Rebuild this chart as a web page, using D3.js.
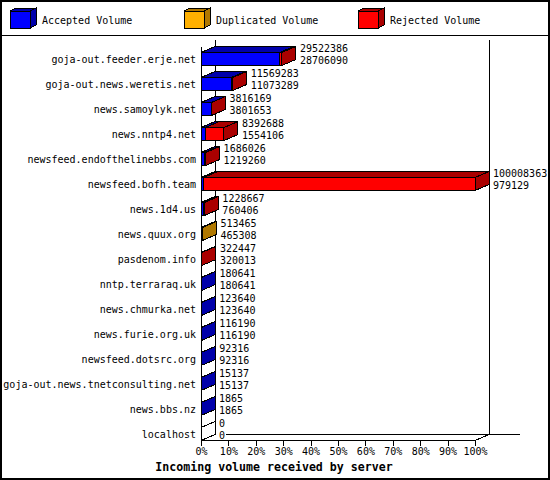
<!DOCTYPE html>
<html>
<head>
<meta charset="utf-8">
<script src="https://cdn.jsdelivr.net/npm/d3@7"></script>
<style>
body { margin: 0; background: #fff; }
text { font-family: "DejaVu Sans Mono", monospace; font-size: 10px; fill: #000; }
</style>
</head>
<body>
<script>
const hosts = [
  "goja-out.feeder.erje.net", "goja-out.news.weretis.net", "news.samoylyk.net",
  "news.nntp4.net", "newsfeed.endofthelinebbs.com", "newsfeed.bofh.team",
  "news.1d4.us", "news.quux.org", "pasdenom.info", "nntp.terraraq.uk",
  "news.chmurka.net", "news.furie.org.uk", "newsfeed.dotsrc.org",
  "goja-out.news.tnetconsulting.net", "news.bbs.nz", "localhost"
]
const accepted = [28706090, 11073289, 3801653, 1554106, 1219260, 979129, 760406, 465308,
  320013, 180641, 123640, 116190, 92316, 15137, 1865, 0]
const duplicated = [0, 0, 0, 0, 0, 0, 0, 48157, 0, 0, 0, 0, 0, 0, 0, 0]
const rejected = [816296, 495994, 14516, 6838582, 466766, 99029234, 468261, 0,
  2434, 0, 0, 0, 0, 0, 0, 0]
const legendNames = ["Accepted Volume", "Duplicated Volume", "Rejected Volume"]
const tickPct = [0, 10, 20, 30, 40, 50, 60, 70, 80, 90, 100]
const title = "Incoming volume received by server"

const frontCol = ["#0000ff", "#ffb000", "#ff0000"]
const darkCol = ["#0000aa", "#b07800", "#aa0000"]
const series = [accepted, duplicated, rejected]

const W = 550, H = 480
const dx = 14, dy = 6, barH = 13

const svg = d3.select("body").append("svg")
  .attr("width", W).attr("height", H)
  .attr("shape-rendering", "crispEdges")

// outer frame + legend separator
svg.append("rect").attr("x", 1).attr("y", 1).attr("width", W - 2).attr("height", H - 2)
  .attr("fill", "#fff").attr("stroke", "#000").attr("stroke-width", 2)
svg.append("line").attr("x1", 0).attr("x2", W).attr("y1", 35.5).attr("y2", 35.5)
  .attr("stroke", "#000")

// legend
const leg = svg.append("g").selectAll("g")
  .data(legendNames)
  .enter().append("g")
  .attr("transform", (d, i) => "translate(" + (10 + i * 174) + ",11)")

leg.append("polygon")
  .attr("points", "20,0 26,-3 26,14 20,17")
  .attr("fill", (d, i) => darkCol[i]).attr("stroke", "#000")
leg.append("polygon")
  .attr("points", "0,0 6,-3 26,-3 20,0")
  .attr("fill", (d, i) => darkCol[i]).attr("stroke", "#000")
leg.append("rect")
  .attr("width", 20).attr("height", 17)
  .attr("fill", (d, i) => frontCol[i]).attr("stroke", "#000")
leg.append("text")
  .attr("x", 32).attr("y", 9).attr("dy", "0.35em")
  .text(d => d)

const totals = hosts.map((h, i) => accepted[i] + duplicated[i] + rejected[i])

const y = d3.scaleBand().domain(hosts).range([46.5, 446.5])
const yc = h => y(h) + y.bandwidth() / 2

const x = d3.scaleLinear().domain([0, d3.max(totals)]).range([201, 475])
const xp = d3.scaleLinear().domain([0, 100]).range([201, 475])

const floorY = yc(hosts[hosts.length - 1]) + barH / 2

// walls
const frame = svg.append("g").attr("stroke", "#000").attr("fill", "none")
frame.append("line").attr("x1", xp(0) + dx).attr("x2", xp(0) + dx).attr("y1", 40).attr("y2", floorY - dy)
frame.append("line").attr("x1", xp(100) + dx).attr("x2", xp(100) + dx).attr("y1", 40).attr("y2", floorY - dy)
frame.append("line").attr("x1", xp(0) + dx + 11).attr("x2", 520).attr("y1", floorY - dy).attr("y2", floorY - dy)
frame.append("line").attr("x1", xp(0)).attr("x2", xp(0)).attr("y1", y.range()[0]).attr("y2", floorY)
frame.append("path")
  .attr("d", "M" + xp(0) + "," + floorY + "H" + xp(100) + "l" + dx + "," + (-dy))

// axis
const xaxis = svg.append("g")
  .attr("transform", "translate(0," + floorY + ")")
  .call(d3.axisBottom(xp).tickValues(tickPct).tickSize(5).tickPadding(2).tickFormat(d => d + "%"))
xaxis.select(".domain").remove()
xaxis.selectAll("text").style("font-family", "DejaVu Sans Mono").style("font-size", "10px")

// bars
const bars = svg.append("g").selectAll("g")
  .data(hosts)
  .enter().append("g")

bars.each(function (h, i) {
  const g = d3.select(this)
  const top = yc(h) - barH / 2
  const bot = yc(h) + barH / 2
  let cum = 0
  let last = -1
  series.forEach((vals, s) => {
    const v = vals[i]
    if (v <= 0) return
    const x0 = x(cum), x1 = x(cum + v)
    cum += v
    last = s
    g.append("polygon")
      .attr("points", [[x0, top], [x0 + dx, top - dy], [x1 + dx, top - dy], [x1, top]].join(" "))
      .attr("fill", darkCol[s]).attr("stroke", "#000")
    g.append("rect")
      .attr("x", x0).attr("y", top).attr("width", x1 - x0).attr("height", barH)
      .attr("fill", frontCol[s]).attr("stroke", "#000")
  })
  const xe = x(cum)
  g.append("polygon")
    .attr("points", [[xe, top], [xe + dx, top - dy], [xe + dx, bot - dy], [xe, bot]].join(" "))
    .attr("fill", last < 0 ? "#fff" : darkCol[last]).attr("stroke", "#000")

  g.append("text")
    .attr("x", xe + dx + 4).attr("y", top - dy + 2).attr("dy", "0.35em")
    .text(totals[i])
  g.append("text")
    .attr("x", xe + dx + 4).attr("y", top - dy + 14).attr("dy", "0.35em")
    .text(accepted[i])
})

// host labels
svg.append("g").selectAll("text")
  .data(hosts)
  .enter().append("text")
  .attr("x", 196).attr("y", d => yc(d)).attr("dy", "0.35em")
  .attr("text-anchor", "end")
  .text(d => d)

svg.append("text")
  .attr("x", 274).attr("y", 467).attr("dy", "0.35em")
  .attr("text-anchor", "middle")
  .style("font-weight", "bold").style("font-size", "11.6px")
  .text(title)
</script>
</body>
</html>
